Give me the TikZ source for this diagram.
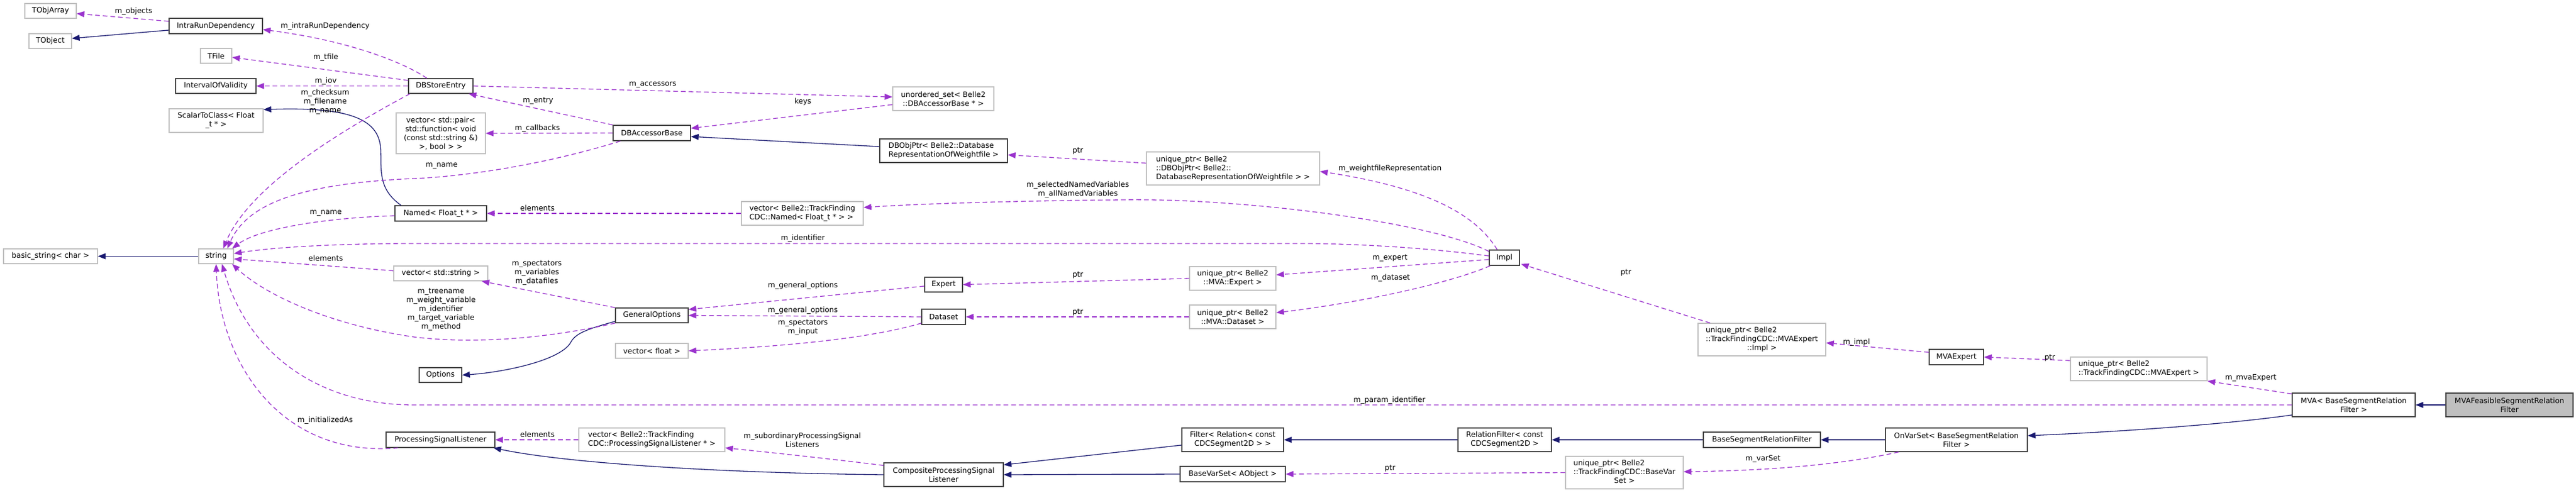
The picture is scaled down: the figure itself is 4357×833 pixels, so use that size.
\documentclass[tikz,border=0pt]{standalone}
\usepackage{fontspec}
\setmainfont{DejaVu Sans}
\usetikzlibrary{arrows.meta}
\definecolor{usecol}{HTML}{9A32CD}
\definecolor{inhcol}{HTML}{191970}
\definecolor{extcol}{HTML}{BFBFBF}
\definecolor{clscol}{HTML}{404040}
\newcommand{\dxfont}{\fontsize{12.5}{15}\selectfont}
\begin{document}
\begin{tikzpicture}[x=1pt,y=-1pt,
  cls/.style={draw=clscol, fill=white, line width=1.3pt, inner sep=0pt, font=\dxfont, align=center},
  ext/.style={cls, draw=extcol},
  mainc/.style={cls, draw=clscol, fill=extcol},
  lbl/.style={inner sep=0pt, font=\dxfont, align=center},
  use/.style={draw=usecol, line width=1.3pt, dash pattern=on 8pt off 5pt, -{Triangle[length=13pt,width=10pt]}},
  inh/.style={draw=inhcol, line width=1.3pt, -{Triangle[length=13pt,width=10pt]}}]
\fill[white] (0,0) rectangle (4357,833);
\useasboundingbox (0,0) rectangle (4357,833);

% nodes
\node[ext, minimum width=87pt, minimum height=25pt] (tobjarray) at (85.5,18.5) {TObjArray};
\node[ext, minimum width=72pt, minimum height=25pt] (tobject) at (85,69.5) {TObject};
\node[cls, minimum width=158pt, minimum height=26pt] (intrarun) at (365,44) {IntraRunDependency};
\node[ext, minimum width=53pt, minimum height=25pt] (tfile) at (365.5,94.5) {TFile};
\node[cls, minimum width=136pt, minimum height=25pt] (iov) at (365,145.5) {IntervalOfValidity};
\node[ext, minimum width=159pt, minimum height=40pt] (scalar) at (365.5,204) {ScalarToClass< Float\\\_t * >};
\node[ext, minimum width=159pt, minimum height=25pt] (basicstr) at (85.5,433.5) {basic\_string< char >};
\node[ext, minimum width=59pt, minimum height=25pt] (string) at (365.5,433.5) {string};
\node[cls, minimum width=109pt, minimum height=25pt] (dbstore) at (745.5,145.5) {DBStoreEntry};
\node[ext, minimum width=151pt, minimum height=69pt] (vecpair) at (745.5,225.5) {vector< std::pair<\\std::function< void\\(const std::string \&)\\>, bool > >};
\node[cls, minimum width=131pt, minimum height=26pt] (dbacc) at (1102.5,225) {DBAccessorBase};
\node[cls, minimum width=155pt, minimum height=26pt] (named) at (745.5,361) {Named< Float\_t * >};
\node[ext, minimum width=206pt, minimum height=40pt, align=left] (vecnamed) at (1357,361) {vector< Belle2::TrackFinding\\CDC::Named< Float\_t * > >};
\node[ext, minimum width=171pt, minimum height=40pt] (unordset) at (1595.5,167) {unordered\_set< Belle2\\::DBAccessorBase * >};
\node[cls, minimum width=216pt, minimum height=40pt, align=left] (dbobjptr) at (1596,255) {DBObjPtr< Belle2::Database\\RepresentationOfWeightfile >};
\node[ext, minimum width=293pt, minimum height=56pt, align=left] (uniqdbobj) at (2085.5,285) {unique\_ptr< Belle2\\::DBObjPtr< Belle2::\\DatabaseRepresentationOfWeightfile > >};
\node[ext, minimum width=159pt, minimum height=25pt] (vecstring) at (745.5,462.5) {vector< std::string >};
\node[cls, minimum width=123pt, minimum height=25pt] (genopt) at (1102.5,533.5) {GeneralOptions};
\node[ext, minimum width=123pt, minimum height=25pt] (vecfloat) at (1102.5,593.5) {vector< float >};
\node[cls, minimum width=72pt, minimum height=25pt] (options) at (745,634.5) {Options};
\node[cls, minimum width=184pt, minimum height=26pt] (psl) at (745,744) {ProcessingSignalListener};
\node[ext, minimum width=247pt, minimum height=40pt, align=left] (vecpsl) at (1102.5,744) {vector< Belle2::TrackFinding\\CDC::ProcessingSignalListener * >};
\node[cls, minimum width=64pt, minimum height=25pt] (expert) at (1596,481.5) {Expert};
\node[cls, minimum width=74pt, minimum height=26pt] (dataset) at (1596,536) {Dataset};
\node[ext, minimum width=146pt, minimum height=40pt] (uniqexpert) at (2085,471) {unique\_ptr< Belle2\\::MVA::Expert >};
\node[ext, minimum width=146pt, minimum height=40pt] (uniqdataset) at (2085,536) {unique\_ptr< Belle2\\::MVA::Dataset >};
\node[cls, minimum width=202pt, minimum height=40pt] (composite) at (1596,803) {CompositeProcessingSignal\\Listener};
\node[cls, minimum width=172pt, minimum height=40pt] (filter) at (2085,744) {Filter< Relation< const\\CDCSegment2D > >};
\node[cls, minimum width=178pt, minimum height=26pt] (basevarset) at (2085,802) {BaseVarSet< AObject >};
\node[cls, minimum width=51pt, minimum height=26pt] (impl) at (2544.5,436) {Impl};
\node[cls, minimum width=158pt, minimum height=40pt] (relfilter) at (2545,744) {RelationFilter< const\\CDCSegment2D >};
\node[ext, minimum width=199pt, minimum height=55pt] (uniqbvs) at (2747.5,799.5) {\begin{tabular}{@{}l@{}}unique\_ptr< Belle2\\::TrackFindingCDC::BaseVar\\\multicolumn{1}{@{}c@{}}{Set >}\end{tabular}};
\node[ext, minimum width=216pt, minimum height=55pt] (uniqimpl) at (2980,574.5) {\begin{tabular}{@{}l@{}}unique\_ptr< Belle2\\::TrackFindingCDC::MVAExpert\\\multicolumn{1}{@{}c@{}}{::Impl >}\end{tabular}};
\node[cls, minimum width=198pt, minimum height=26pt] (bsrf) at (2980,744) {BaseSegmentRelationFilter};
\node[cls, minimum width=92pt, minimum height=26pt] (mvaexpert) at (3309,604) {MVAExpert};
\node[ext, minimum width=231pt, minimum height=40pt, align=left] (uniqmvaexp) at (3617.5,624) {unique\_ptr< Belle2\\::TrackFindingCDC::MVAExpert >};
\node[cls, minimum width=240pt, minimum height=40pt] (onvarset) at (3309,744) {OnVarSet< BaseSegmentRelation\\Filter >};
\node[cls, minimum width=208pt, minimum height=40pt] (mva) at (3981,685) {MVA< BaseSegmentRelation\\Filter >};
\node[mainc, minimum width=215pt, minimum height=40pt] (mvafeas) at (4244.5,685) {MVAFeasibleSegmentRelation\\Filter};

% inheritance edges
\draw[inh] ([yshift=-7pt]intrarun.west) -- ([yshift=4.5pt]tobject.east);
\draw[inh] ([xshift=11pt]named.north west) .. controls (640,320) and (645,290) .. (644,255) .. controls (643,205) and (600,180) .. ([yshift=-2pt]scalar.north east);
\draw[inh] (string.west) -- (basicstr.east);
\draw[inh] ([yshift=7pt]dbobjptr.west) -- ([yshift=-6pt]dbacc.east);
\draw[inh] ([yshift=3pt]genopt.south west) .. controls (1000,555) and (975,562) .. (966,578) .. controls (950,610) and (850,630) .. (options.east);
\draw[inh] (composite.west) .. controls (1200,800) and (950,782) .. ([xshift=-3pt]psl.south east);
\draw[inh] ([yshift=-9pt]filter.west) -- ([yshift=-4pt]composite.north east);
\draw[inh] (basevarset.west) -- (composite.east);
\draw[inh] (relfilter.west) -- (filter.east);
\draw[inh] (bsrf.west) -- (relfilter.east);
\draw[inh] (onvarset.west) -- (bsrf.east);
\draw[inh] ([yshift=-17pt]mva.west) .. controls (3750,720) and (3550,732) .. ([yshift=7pt]onvarset.east);
\draw[inh] (mvafeas.west) -- (mva.east);

% usage edges
\draw[use] ([yshift=8pt]intrarun.west) -- ([yshift=-4.5pt]tobjarray.east);
\draw[use] ([xshift=-23.5pt]dbstore.north) .. controls (690,110) and (600,70) .. ([yshift=-6pt]intrarun.east);
\draw[use] ([yshift=9.5pt]dbstore.west) -- ([yshift=-2.5pt]tfile.east);
\draw[use] (dbstore.west) -- (iov.east);
\draw[use] ([xshift=3pt]dbstore.south west) .. controls (560,230) and (420,320) .. ([xshift=12pt]string.north);
\draw[use] ([yshift=-4pt]named.west) .. controls (560,368) and (440,385) .. ([xshift=-3pt]string.north east);
\draw[use] ([xshift=13pt]dbacc.south west) .. controls (900,285) and (760,300) .. (700,302) .. controls (520,310) and (420,340) .. ([xshift=19pt]string.north);
\draw[use] (dbstore.east) -- ([yshift=3pt]unordset.west);
\draw[use] (dbacc.north west) -- ([xshift=-8pt]dbstore.south east);
\draw[use] (dbacc.west) -- (vecpair.east);
\draw[use] ([yshift=-10pt]unordset.west) -- ([yshift=8pt]dbacc.east);
\draw[use] ([yshift=9pt]uniqdbobj.west) -- ([yshift=-7pt]dbobjptr.east);
\draw[use] (vecnamed.west) -- (named.east);
\draw[use] ([yshift=-3pt]impl.north west) .. controls (2420,375) and (2100,335) .. (1900,338) .. controls (1700,340) and (1550,345) .. ([yshift=10pt]vecnamed.east);
\draw[use] ([yshift=3pt]impl.west) .. controls (2420,420) and (2300,412) .. (2200,412) -- (700,412) .. controls (550,412) and (450,420) .. ([yshift=4.5pt]string.east);
\draw[use] ([yshift=-3pt]impl.west) -- ([yshift=6pt]uniqexpert.east);
\draw[use] ([xshift=2pt]impl.south west) .. controls (2450,480) and (2300,512) .. ([yshift=7pt]uniqdataset.east);
\draw[use] ([xshift=14pt]impl.north west) .. controls (2500,370) and (2430,320) .. ([yshift=-5pt]uniqdbobj.east);
\draw[use] (uniqexpert.west) -- (expert.east);
\draw[use] (uniqdataset.west) -- (dataset.east);
\draw[use] ([yshift=-2.5pt]expert.west) -- ([yshift=10pt]genopt.east);
\draw[use] (dataset.west) -- (genopt.east);
\draw[use] ([yshift=3pt]dataset.south west) .. controls (1480,570) and (1350,585) .. (vecfloat.east);
\draw[use] (genopt.north west) -- ([xshift=-11pt]vecstring.south east);
\draw[use] (genopt.south west) .. controls (900,578) and (780,580) .. (700,570) .. controls (560,550) and (450,500) .. ([xshift=-3pt]string.south east);
\draw[use] ([yshift=4.5pt]vecstring.west) -- ([yshift=-4.5pt]string.east);
\draw[use] (mva.west) -- (700,685) .. controls (540,685) and (420,600) .. ([xshift=10pt]string.south);
\draw[use] ([xshift=21pt]psl.south west) .. controls (480,775) and (372,620) .. (string.south);
\draw[use] (vecpsl.west) -- (psl.east);
\draw[use] ([yshift=-5pt]composite.north west) .. controls (1420,778) and (1300,765) .. ([yshift=7pt]vecpsl.south east);
\draw[use] ([xshift=21pt]uniqimpl.north west) -- ([xshift=2pt,yshift=3pt]impl.south east);
\draw[use] ([yshift=8pt]mvaexpert.west) -- ([yshift=-5.5pt]uniqimpl.east);
\draw[use] ([yshift=14pt]uniqmvaexp.west) -- (mvaexpert.east);
\draw[use] ([yshift=-2pt]mva.north west) -- (uniqmvaexp.south east);
\draw[use] ([xshift=23pt]onvarset.south west) .. controls (3120,785) and (3000,796) .. ([yshift=1.5pt]uniqbvs.east);
\draw[use] (uniqbvs.west) -- (basevarset.east);

% edge labels
\node[lbl] (l1) at (226,19) {m\_objects};
\node[lbl] (l2) at (550,44) {m\_intraRunDependency};
\node[lbl] (l3) at (551,97) {m\_tfile};
\node[lbl] (l4) at (551,137) {m\_iov};
\node[lbl] (l5) at (550,172) {m\_checksum\\m\_filename\\m\_name};
\node[lbl] (l6) at (551,360) {m\_name};
\node[lbl] (l7) at (1104,143) {m\_accessors};
\node[lbl] (l8) at (910,171) {m\_entry};
\node[lbl] (l9) at (909,217) {m\_callbacks};
\node[lbl] (l10) at (1358,172) {keys};
\node[lbl] (l11) at (747,280) {m\_name};
\node[lbl] (l12) at (909,352) {elements};
\node[lbl] (l13) at (1358,403) {m\_identifier};
\node[lbl] (l14) at (551,437) {elements};
\node[lbl] (l15) at (908,462) {m\_spectators\\m\_variables\\m\_datafiles};
\node[lbl] (l16) at (746,524) {m\_treename\\m\_weight\_variable\\m\_identifier\\m\_target\_variable\\m\_method};
\node[lbl] (l17) at (1358,483) {m\_general\_options};
\node[lbl] (l18) at (1358,525) {m\_general\_options};
\node[lbl] (l19) at (1358,554) {m\_spectators\\m\_input};
\node[lbl] (l20) at (909,735) {elements};
\node[lbl] (l21) at (1357,744) {m\_subordinaryProcessingSignal\\Listeners};
\node[lbl] (l22) at (550,711) {m\_initializedAs};
\node[lbl] (l23) at (2350,677) {m\_param\_identifier};
\node[lbl] (l24) at (1823,255) {ptr};
\node[lbl] (l25) at (1823,321) {m\_selectedNamedVariables\\m\_allNamedVariables};
\node[lbl] (l26) at (1823,465) {ptr};
\node[lbl] (l27) at (1823,528) {ptr};
\node[lbl] (l28) at (2351,285) {m\_weightfileRepresentation};
\node[lbl] (l29) at (2351,437) {m\_expert};
\node[lbl] (l30) at (2352,470) {m\_dataset};
\node[lbl] (l31) at (2750,461) {ptr};
\node[lbl] (l32) at (2351,792) {ptr};
\node[lbl] (l33) at (3140,579) {m\_impl};
\node[lbl] (l34) at (3467,605) {ptr};
\node[lbl] (l35) at (2982,776) {m\_varSet};
\node[lbl] (l36) at (3807,639) {m\_mvaExpert};
\end{tikzpicture}
\end{document}
